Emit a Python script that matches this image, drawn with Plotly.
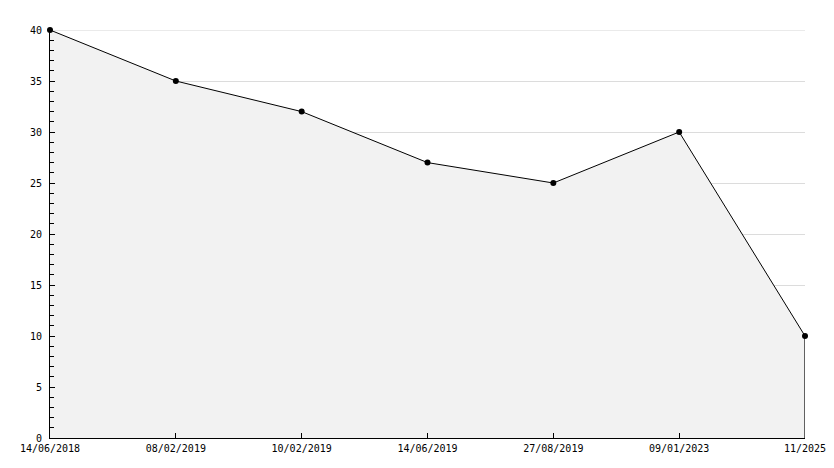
import plotly.graph_objects as go

dates = ["14/06/2018", "08/02/2019", "10/02/2019", "14/06/2019",
         "27/08/2019", "09/01/2023", "11/2025"]
values = [40, 35, 32, 27, 25, 30, 10]
y_ticks = list(range(0, 41, 5))

xs = list(range(len(dates)))

fig = go.Figure()
fig.add_trace(go.Scatter(
    x=xs, y=values,
    mode="lines+markers",
    fill="tozeroy",
    fillcolor="#f2f2f2",
    line=dict(color="black", width=1),
    marker=dict(color="black", size=6, symbol="circle"),
    cliponaxis=False,
    showlegend=False,
))
# closing edge of the filled area on the right
fig.add_trace(go.Scatter(
    x=[xs[-1], xs[-1]], y=[values[-1], 0],
    mode="lines", line=dict(color="black", width=1.2),
    cliponaxis=False,
    showlegend=False, hoverinfo="skip",
))

# top gridline (plotly drops the one sitting on the range edge)
fig.add_shape(type="line", xref="paper", x0=0, x1=1, yref="y",
              y0=y_ticks[-1], y1=y_ticks[-1],
              line=dict(color="#d6d6d6", width=1), layer="below")

# page body has an 8px margin, so the figure is shrunk by that much
fig.update_layout(
    width=826, height=460,
    margin=dict(l=42, r=29, t=22, b=30),
    paper_bgcolor="white", plot_bgcolor="white",
    font=dict(family="DejaVu Sans Mono", size=10, color="black"),
)
fig.update_xaxes(
    range=[0, len(dates) - 1],
    tickvals=xs, ticktext=dates,
    automargin=False,
    showgrid=False, zeroline=False,
    showline=True, linecolor="black", linewidth=1,
    ticks="inside", ticklen=5, tickcolor="black",
    ticklabelstandoff=1,
)
fig.update_yaxes(
    range=[0, 40], tickvals=y_ticks,
    automargin=False,
    showgrid=True, gridcolor="#dcdcdc", gridwidth=1,
    zeroline=False,
    showline=True, linecolor="black", linewidth=1,
    ticks="inside", ticklen=5, tickcolor="black",
    ticklabelstandoff=5,
    minor=dict(dtick=1, ticks="inside", ticklen=4, tickcolor="black", showgrid=False),
)

fig.write_html("out.html")
